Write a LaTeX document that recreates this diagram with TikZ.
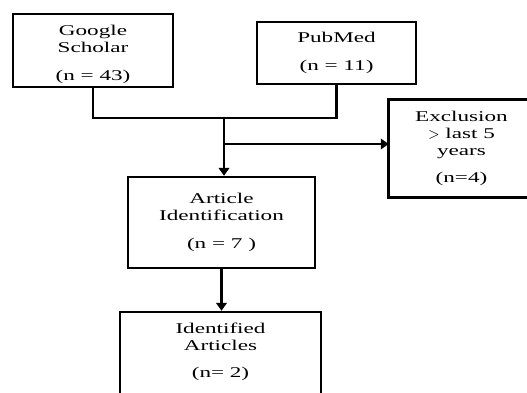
\documentclass[tikz,border=0pt]{standalone}
\usepackage{fontspec}
\setmainfont{Liberation Serif}[FakeStretch=1.55]
\usepackage{tikz}
\usetikzlibrary{calc,arrows.meta,positioning}
\tikzset{
  flowtext/.style={align=center, inner sep=2pt, font=\fontsize{8.5}{9.6}\selectfont},
  flowbox/.style={flowtext, draw, line width=1.4pt},
  flowline/.style={line width=1.5pt},
  flowarrow/.style={line width=1.5pt, -{Triangle[width=6pt,length=4.5pt]}}
}

\begin{document}
\begin{tikzpicture}[x=0.02cm, y=-0.02cm]
        % Frame of the picture (pixel units)
        \useasboundingbox (0,0) rectangle (527,392);
        \clip (0,0) rectangle (527,392);
        % Sources
        \node[flowbox, minimum width=3.2cm, minimum height=1.46cm] (scholar) at (93,50.5)
          {\rule{0pt}{10.5pt}Google\\Scholar\\[6pt](n = 43)};
        \node[flowbox, minimum width=3.18cm, minimum height=1.24cm] (pubmed) at (336.5,53)
          {PubMed\\[6pt](n = 11)};
        % Exclusion box runs past the right edge: only three sides drawn
        \node[flowtext, minimum width=2.9cm, minimum height=1.94cm] (excl) at (461.5,148.5)
          {Exclusion\\$>$ last 5\\years\\[6pt](n=4)};
        \draw[line width=1.4pt] (excl.north east) -- (excl.north west) -- (excl.south west) -- (excl.south east);
        % Screening steps
        \node[flowbox, minimum width=3.74cm, minimum height=1.82cm] (artid) at (221.5,222.5)
          {Article\\Identification\\[6pt](n = 7 )};
        \node[flowbox, minimum width=4.02cm, minimum height=1.8cm] (idart) at (220.5,357)
          {Identified\\Articles\\[6pt](n= 2)\rule[-7.5pt]{0pt}{7.5pt}};
        % Merge and split points
        \coordinate (merge) at (224,118);
        \coordinate (split) at (224,144);
        % Connectors
        \draw[flowline] (scholar.south) |- (merge);
        \draw[flowline] (pubmed.south) |- (merge);
        \draw[flowarrow] (merge) -- (merge |- artid.north);
        \draw[flowarrow] (split) -- (split -| excl.west);
        \draw[flowarrow] (artid.south) -- (artid.south |- idart.north);
      \end{tikzpicture}
\end{document}
